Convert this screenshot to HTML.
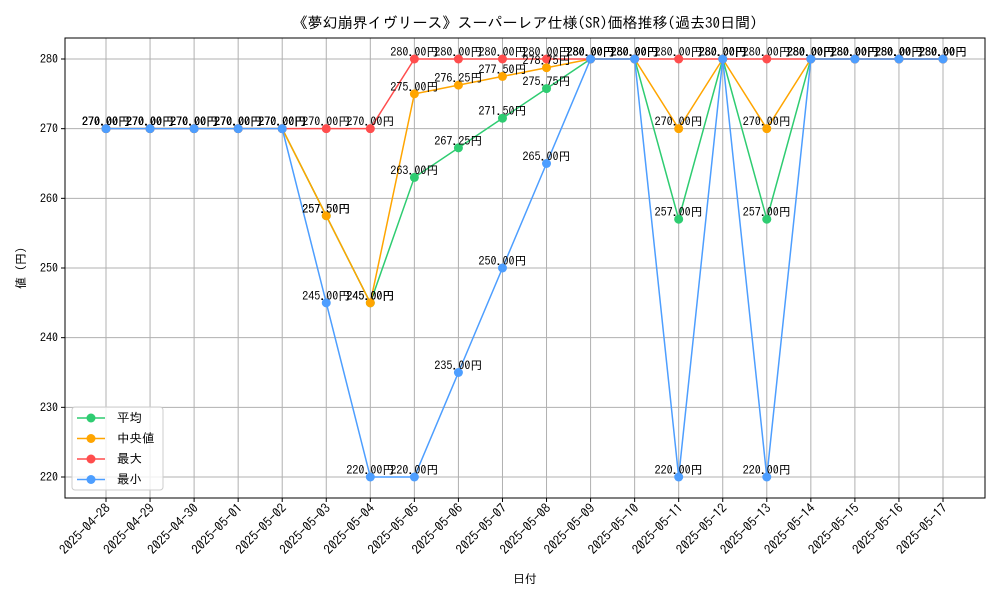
<!DOCTYPE html>
<html><head><meta charset="utf-8"><style>
body{margin:0;background:#fff;}
text{font-family:"IPAGothic","Noto Sans CJK JP",sans-serif;}
</style></head><body>
<svg id="chart" width="1000" height="600" xmlns="http://www.w3.org/2000/svg">
<rect width="1000" height="600" fill="#fff"/>
<text x="525" y="28" font-size="15" text-anchor="middle">《夢幻崩界イヴリース》スーパーレア仕様(SR)価格推移(過去30日間)</text>
<g id="grid"></g><g id="axes"></g><g id="series"></g><g id="labels"></g>
<rect x="65" y="38" width="920" height="460" fill="none" stroke="#000" stroke-width="1"/>
<text x="525" y="583" font-size="12" text-anchor="middle">日付</text>
<text x="0" y="0" font-size="12" text-anchor="middle" transform="translate(25,268) rotate(-90)">値 (円)</text>
<g>
<rect x="72" y="407" width="91" height="83" rx="3" fill="#fff" fill-opacity="0.8" stroke="#ccc"/>
<g id="legend-items"></g>
</g>
</svg>
<script>
const dates=["2025-04-28","2025-04-29","2025-04-30","2025-05-01","2025-05-02","2025-05-03","2025-05-04","2025-05-05","2025-05-06","2025-05-07","2025-05-08","2025-05-09","2025-05-10","2025-05-11","2025-05-12","2025-05-13","2025-05-14","2025-05-15","2025-05-16","2025-05-17"];
const avgVals=[270,270,270,270,270,257.5,245,263,267.25,271.5,275.75,280,280,257,280,257,280,280,280,280];
const medVals=[270,270,270,270,270,257.5,245,275,276.25,277.5,278.75,280,280,270,280,270,280,280,280,280];
const maxVals=[270,270,270,270,270,270,270,280,280,280,280,280,280,280,280,280,280,280,280,280];
const minVals=[270,270,270,270,270,245,220,220,235,250,265,280,280,220,280,220,280,280,280,280];
const yTicks=[220,230,240,250,260,270,280];
const seriesNames=["平均","中央値","最大","最小"];
const NS="http://www.w3.org/2000/svg";
const X=i=>106+i*(943-106)/(dates.length-1);
const Y=v=>477-(v-220)*(477-59)/60;
function mk(tag,attrs,parent){const e=document.createElementNS(NS,tag);for(const k in attrs)e.setAttribute(k,attrs[k]);parent.appendChild(e);return e;}
const grid=document.getElementById('grid'),axes=document.getElementById('axes');
dates.forEach((d,i)=>{
 const gl=mk('line',{x1:X(i),x2:X(i),y1:38,y2:498,stroke:'#b0b0b0','stroke-width':1},grid);
 
 
 mk('line',{x1:X(i),x2:X(i),y1:498,y2:502,stroke:'#000'},axes);
 const t=mk('text',{x:X(i)+5,y:509,'font-size':13,'text-anchor':'end',transform:`rotate(-45 ${X(i)+5} 509)`},axes);
 t.textContent=d;
 
 
});
yTicks.forEach(v=>{
 const gl=mk('line',{x1:65,x2:985,y1:Y(v),y2:Y(v),stroke:'#b0b0b0','stroke-width':1},grid);
 
 
 mk('line',{x1:61,x2:65,y1:Y(v),y2:Y(v),stroke:'#000'},axes);
 const t=mk('text',{x:58,y:Y(v)+4,'font-size':12,'text-anchor':'end'},axes);
 t.textContent=v;
 
 
});
const series=[[avgVals,'#2ecc71','avg'],[medVals,'#ffa500','median'],[maxVals,'#ff4d4d','max'],[minVals,'#4d9eff','min']];
const sg=document.getElementById('series'),lg=document.getElementById('labels'),li=document.getElementById('legend-items');
series.forEach(([vals,col,nm],s)=>{
 const p=mk('polyline',{points:vals.map((v,i)=>X(i)+','+Y(v)).join(' '),fill:'none',stroke:col,'stroke-width':1.5},sg);
 
 
 vals.forEach((v,i)=>{
  const c=mk('circle',{cx:X(i),cy:Y(v),r:4.5,fill:col},sg);
  
  
  const t=mk('text',{x:X(i),y:Y(v)-3,'font-size':12,'text-anchor':'middle'},lg);
  t.textContent=v.toFixed(2)+'円';
  
  
 });
 const ly=418+s*20.5;
 const g=mk('g',{},li);
 
 
 mk('line',{x1:77,x2:105,y1:ly,y2:ly,stroke:col,'stroke-width':1.5},g);
 mk('circle',{cx:91,cy:ly,r:4.5,fill:col},g);
 const t=mk('text',{x:117,y:ly+4,'font-size':12.5},g);
 t.textContent=seriesNames[s];
});
</script>
</body></html>
